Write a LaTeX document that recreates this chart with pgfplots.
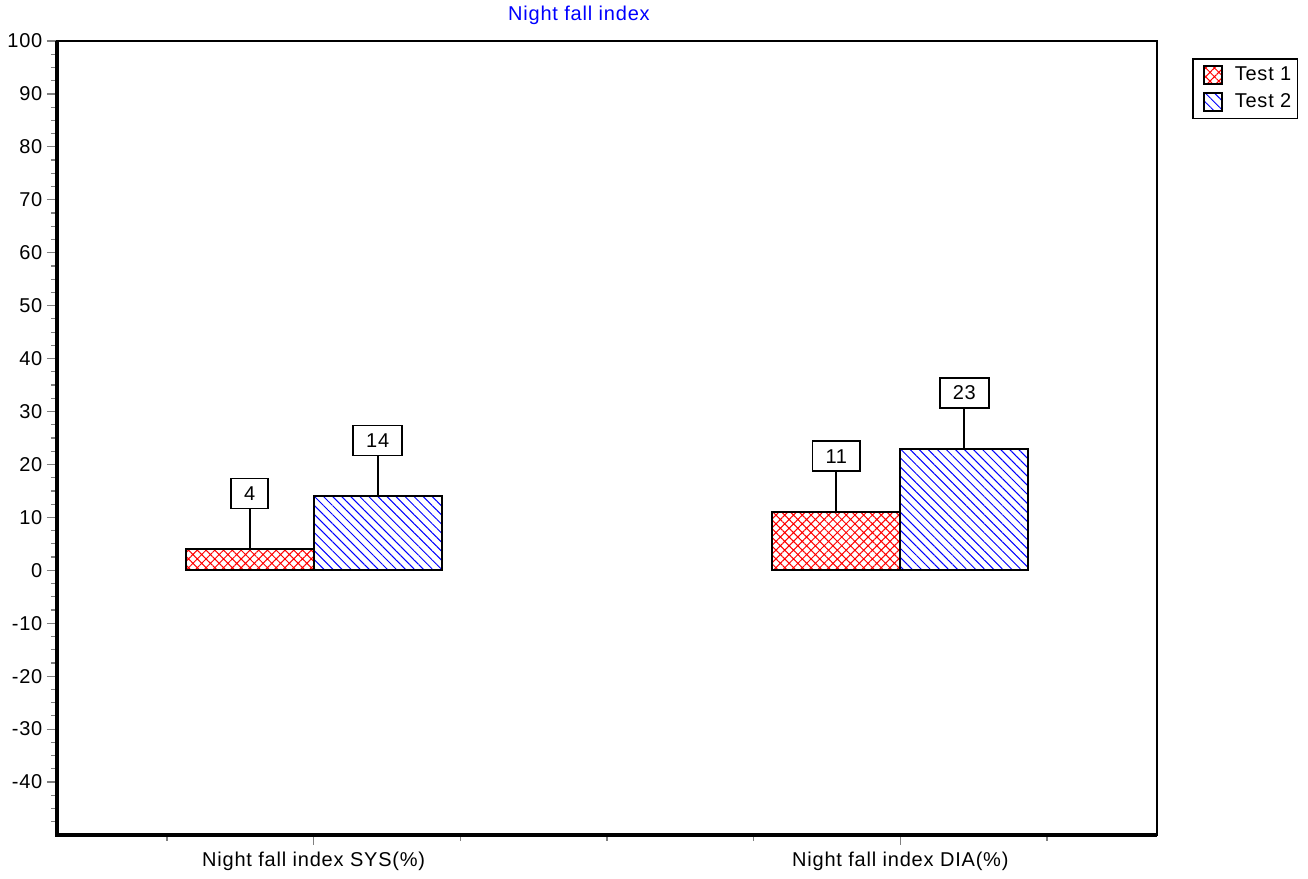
\documentclass[border=0pt]{standalone}
\usepackage{fontspec}
\setmainfont{Liberation Sans}[LetterSpace=4]
\usepackage{pgfplots}
\pgfplotsset{compat=1.18}
\usetikzlibrary{patterns.meta}

\begin{document}
\begin{tikzpicture}
\begin{axis}[
    scale only axis, width=550pt, height=397pt,
    xmin=-1.75, xmax=5.75, ymin=-50, ymax=100,
    ybar=0pt, bar width=64pt,
    xtick={0,4},
    xticklabels={Night fall index SYS(\%),Night fall index DIA(\%)},
    minor xtick={-1,1,2,3,5},
    ytick={-40,-30,...,100},
    minor ytick={-47.5,-45,...,97.5},
    xtick pos=bottom, ytick pos=left,
    tick align=outside,
    major tick length=5pt, minor tick length=3pt,
    tick style={gray, line width=0.6pt},
    axis line style={line width=1pt},
    clip=false,
    /pgf/number format/assume math mode=true,
    tick label style={font=\fontsize{10}{12}\selectfont},
    yticklabel style={xshift=1.2pt},
    legend style={at={(rel axis cs:1.0318,0.9786)}, anchor=north west,
        draw=black, line width=0.8pt, font=\fontsize{10}{12}\selectfont,
        row sep=1pt, inner xsep=3pt, inner ysep=2pt,
        nodes={inner xsep=0pt},
        /tikz/every odd column/.append style={column sep=6pt}},
    legend image code/.code={\path (0pt,0pt);
        \draw[#1] (2pt,-4.5pt) rectangle (11pt,4.5pt);},
    nodes near coords,
    every node near coord/.append style={draw=black, fill=white, text=black,
        line width=0.8pt, anchor=south, yshift=20pt, inner xsep=6.5pt,
        inner ysep=0pt, minimum height=15pt, font=\fontsize{10}{12}\selectfont},
    error bars/y dir=plus, error bars/y explicit, error bars/error mark=none,
    error bars/error bar style={black, line width=1pt},
]
\addplot[draw=black, line width=1pt, bar shift=-32pt,
    pattern={Hatch[angle=45,distance=3.1pt,line width=0.5pt]}, pattern color=red]
    coordinates {(0,4) +- (0,7.557) (4,11) +- (0,7.557)};
\addplot[draw=black, line width=1pt, bar shift=32pt,
    pattern={Lines[angle=-45,distance=3.2pt,line width=0.5pt]}, pattern color=blue]
    coordinates {(0,14) +- (0,7.557) (4,23) +- (0,7.557)};
\legend{Test 1,Test 2}
\draw[line width=1.8pt] (rel axis cs:0,1) -- (rel axis cs:0,0) -- (rel axis cs:1,0);
\node[text=blue, font=\fontsize{10}{12}\selectfont]
    at (rel axis cs:0.4745,1.0327) {Night fall index};
\coordinate (BL) at (rel axis cs:-0.0518,-0.0554);
\coordinate (TR) at (rel axis cs:1.1373,1.0516);
\end{axis}
\pgfresetboundingbox
\path[use as bounding box] (BL) rectangle (TR);
\end{tikzpicture}
\end{document}
